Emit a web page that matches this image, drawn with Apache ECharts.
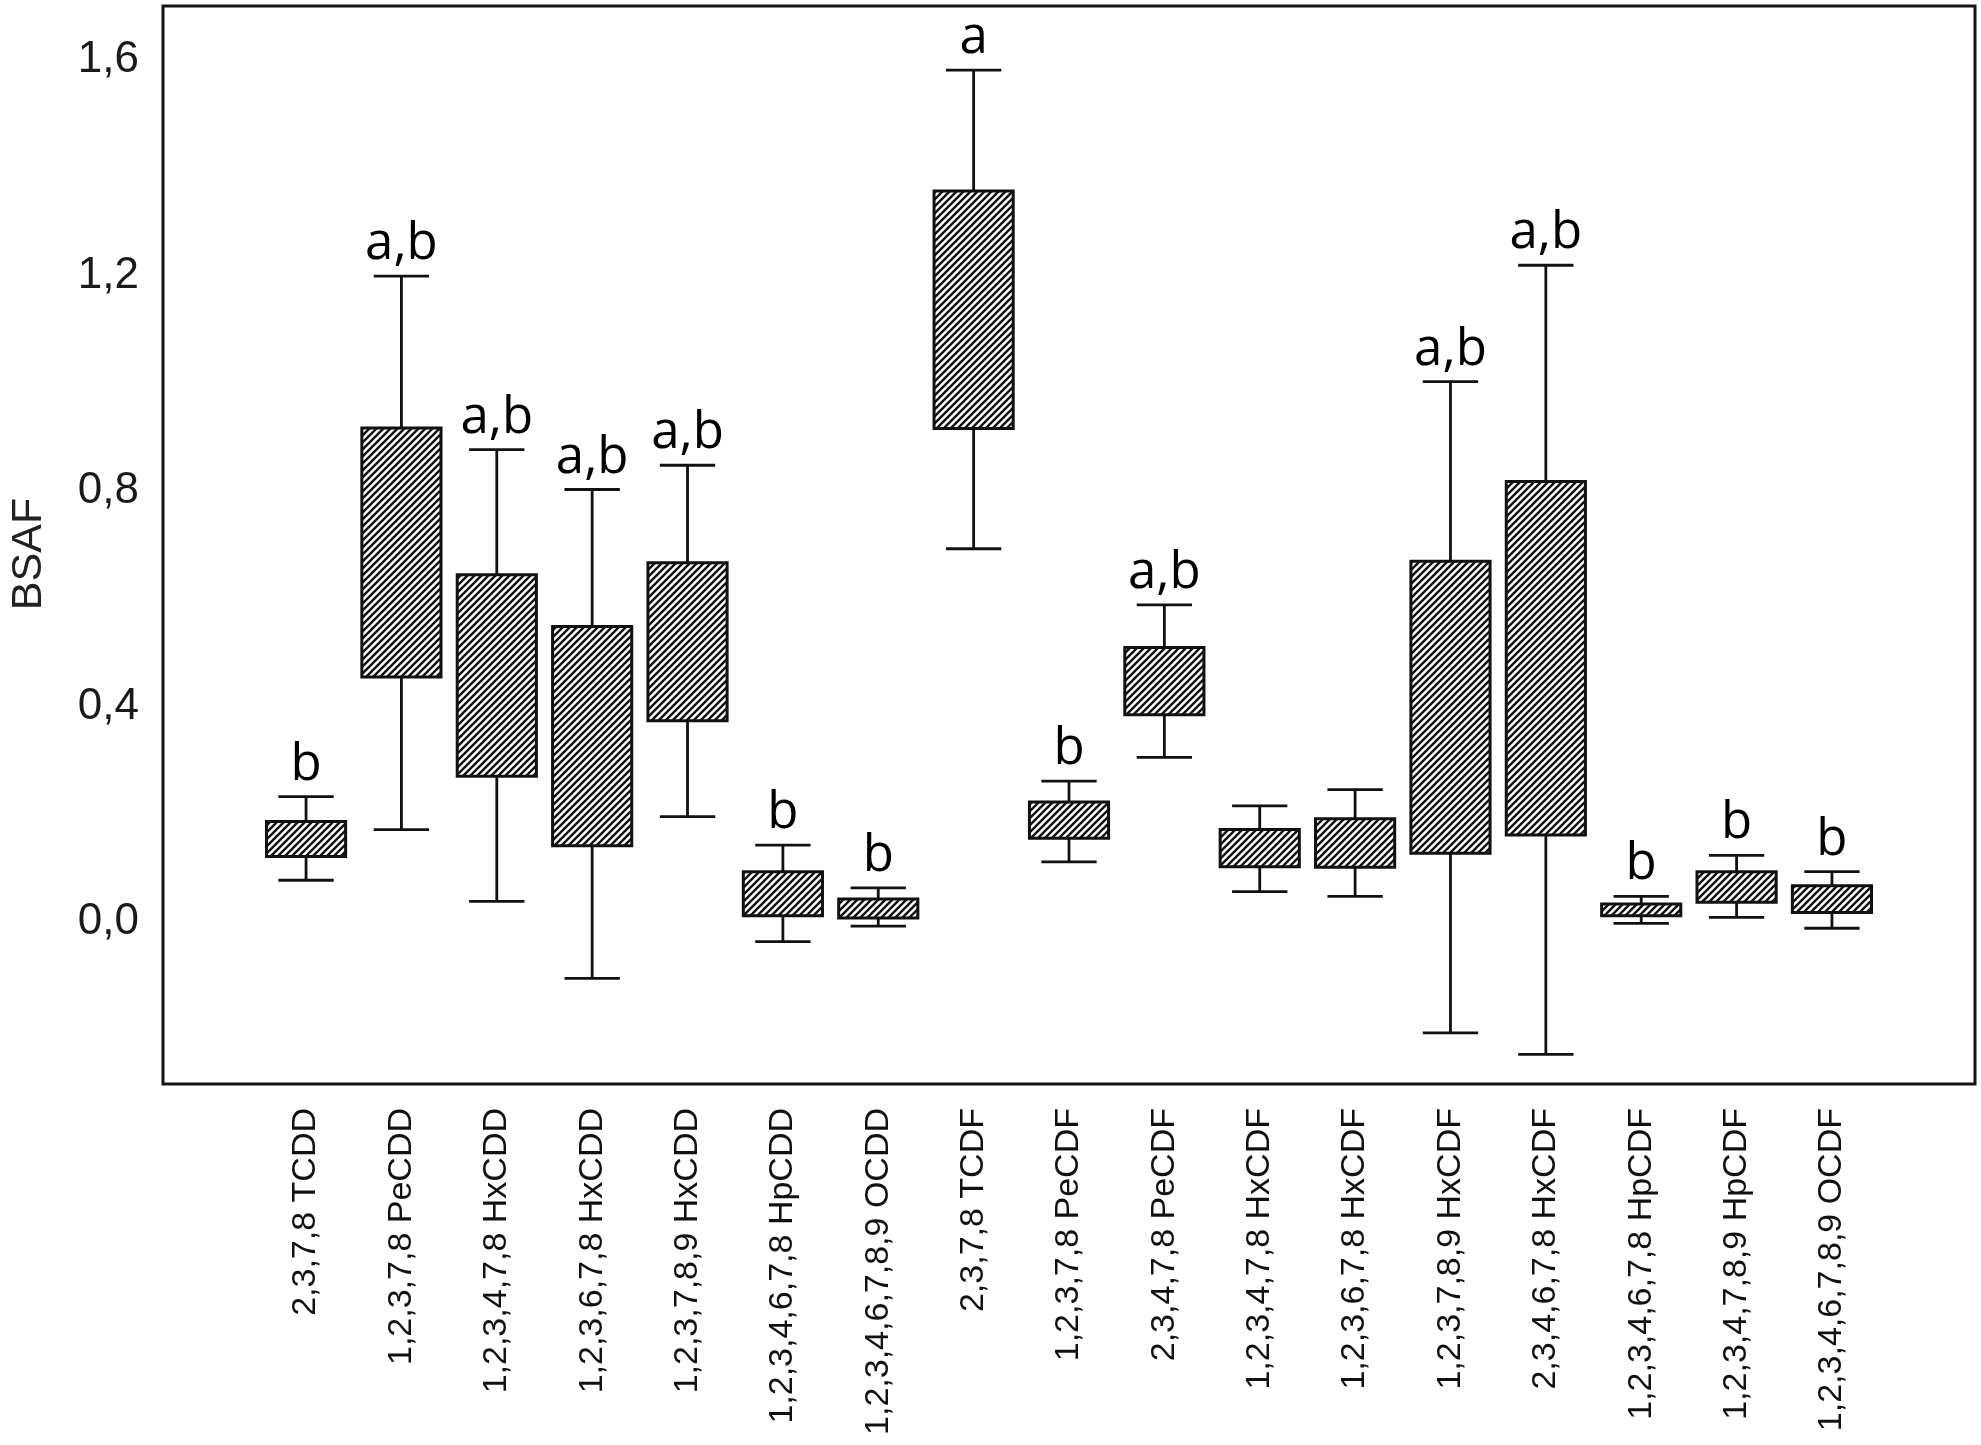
<!DOCTYPE html>
<html><head><meta charset="utf-8">
<script src="https://cdn.jsdelivr.net/npm/echarts@6/dist/echarts.min.js"></script>
<style>html,body{margin:0;padding:0;background:#fff}#c{width:1981px;height:1445px}</style>
</head><body><div id="c"></div>
<script>
const categories = ['2,3,7,8 TCDD','1,2,3,7,8 PeCDD','1,2,3,4,7,8 HxCDD','1,2,3,6,7,8 HxCDD','1,2,3,7,8,9 HxCDD','1,2,3,4,6,7,8 HpCDD','1,2,3,4,6,7,8,9 OCDD','2,3,7,8 TCDF','1,2,3,7,8 PeCDF','2,3,4,7,8 PeCDF','1,2,3,4,7,8 HxCDF','1,2,3,6,7,8 HxCDF','1,2,3,7,8,9 HxCDF','2,3,4,6,7,8 HxCDF','1,2,3,4,6,7,8 HpCDF','1,2,3,4,7,8,9 HpCDF','1,2,3,4,6,7,8,9 OCDF'];
const whiskerLow  = [0.078, 0.172, 0.039, -0.104, 0.196, -0.036, -0.007, 0.693, 0.112, 0.306, 0.057, 0.048, -0.205, -0.245, -0.002, 0.009, -0.011];
const boxLow      = [0.122, 0.455, 0.271, 0.142, 0.374, 0.012, 0.008, 0.916, 0.156, 0.385, 0.103, 0.102, 0.128, 0.162, 0.012, 0.037, 0.018];
const boxHigh     = [0.187, 0.917, 0.645, 0.549, 0.667, 0.094, 0.043, 1.357, 0.223, 0.510, 0.172, 0.192, 0.670, 0.818, 0.034, 0.094, 0.068];
const whiskerHigh = [0.233, 1.199, 0.877, 0.803, 0.848, 0.143, 0.064, 1.581, 0.262, 0.589, 0.216, 0.246, 1.003, 1.219, 0.048, 0.124, 0.094];
const groupLetters = ['b','a,b','a,b','a,b','a,b','b','b','a','b','a,b','','','a,b','a,b','b','b','b'];
const yTicks = [0, 0.4, 0.8, 1.2, 1.6];

function makeHatch() {
  const s = 7, c = document.createElement('canvas');
  c.width = s; c.height = s;
  const g = c.getContext('2d');
  g.fillStyle = '#fff'; g.fillRect(0, 0, s, s);
  g.strokeStyle = '#111'; g.lineWidth = 2.4;
  g.beginPath();
  [-s, 0, s].forEach(function (k) { g.moveTo(k - 1, s + 1); g.lineTo(k + s + 1, -1); });
  g.stroke();
  return c;
}
const hatch = { image: makeHatch(), repeat: 'repeat' };

const xData = [' '].concat(categories, ['  ']);
const seriesData = categories.map(function (c, i) {
  return [i + 1, whiskerLow[i], boxLow[i], boxHigh[i], whiskerHigh[i]];
});

const chart = echarts.init(document.getElementById('c'), null, { renderer: 'canvas' });
chart.setOption({
  animation: false,
  backgroundColor: '#fff',
  grid: { left: 161, right: 6, top: 6, bottom: 361, show: true, borderColor: '#151515', borderWidth: 3, backgroundColor: 'transparent' },
  xAxis: {
    type: 'category', data: xData, boundaryGap: true,
    axisLine: { show: false }, axisTick: { show: false }, splitLine: { show: false },
    axisLabel: { interval: 0, rotate: 90, margin: 24, fontSize: 34, fontFamily: '"Liberation Sans", Arial, sans-serif', color: '#111' }
  },
  yAxis: {
    type: 'value', min: -0.3, max: 1.7,
    name: 'BSAF', nameLocation: 'middle', nameGap: 112, nameRotate: 90,
    nameTextStyle: { fontSize: 43, fontFamily: '"Liberation Sans", Arial, sans-serif', color: '#222', padding: [0, 18, 0, 0] },
    axisLine: { show: false }, axisTick: { show: false }, splitLine: { show: false },
    axisLabel: {
      customValues: yTicks, margin: 24, fontSize: 44, fontFamily: '"Liberation Sans", Arial, sans-serif', color: '#1a1a1a',
      formatter: function (v) { return Number(v).toFixed(1).replace('.', ','); }
    }
  },
  series: [{
    type: 'custom',
    data: seriesData,
    encode: { x: 0, y: [1, 2, 3, 4] },
    clip: false,
    renderItem: function (params, api) {
      const x = api.value(0);
      const pLo = api.coord([x, api.value(1)]);
      const pQ1 = api.coord([x, api.value(2)]);
      const pQ3 = api.coord([x, api.value(3)]);
      const pHi = api.coord([x, api.value(4)]);
      const band = api.size([1, 0])[0];
      const bw = band * 0.83, cw = band * 0.58;
      const cx = pLo[0];
      const ls = { stroke: '#111', lineWidth: 2.8 };
      const children = [
        { type: 'line', shape: { x1: cx, y1: pHi[1], x2: cx, y2: pQ3[1] }, style: ls },
        { type: 'line', shape: { x1: cx, y1: pQ1[1], x2: cx, y2: pLo[1] }, style: ls },
        { type: 'line', shape: { x1: cx - cw / 2, y1: pHi[1], x2: cx + cw / 2, y2: pHi[1] }, style: ls },
        { type: 'line', shape: { x1: cx - cw / 2, y1: pLo[1], x2: cx + cw / 2, y2: pLo[1] }, style: ls },
        { type: 'rect', shape: { x: cx - bw / 2, y: pQ3[1], width: bw, height: pQ1[1] - pQ3[1] },
          style: { fill: hatch, stroke: '#111', lineWidth: 3 } }
      ];
      const t = groupLetters[params.dataIndex];
      if (t) {
        children.push({ type: 'text', style: { text: t, x: cx, y: pHi[1] - 6, align: 'center', verticalAlign: 'bottom',
          fontSize: 51, fontWeight: 'normal', fontFamily: '"Open Sans", sans-serif', fill: '#000' } });
      }
      return { type: 'group', children: children };
    }
  }]
});
</script></body></html>
